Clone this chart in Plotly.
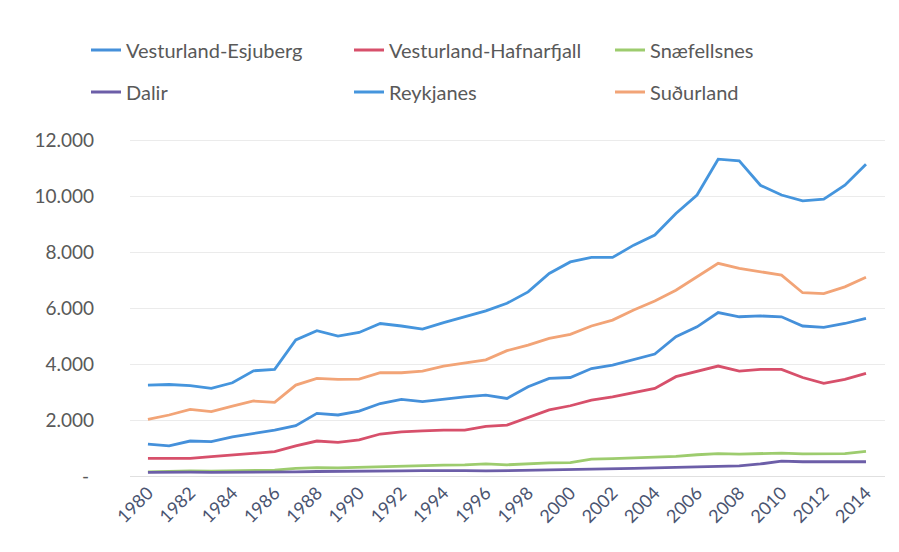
import plotly.graph_objects as go

years = list(range(1980, 2015))

vesturland_esjuberg = [1140, 1080, 1250, 1230, 1400, 1520, 1640, 1800, 2240, 2180, 2320, 2590, 2740, 2660, 2750,
                       2830, 2890, 2770, 3190, 3490, 3520, 3840, 3960, 4170, 4360, 4980, 5330, 5840, 5690, 5720,
                       5690, 5360, 5310, 5450, 5630]
vesturland_hafnarfjall = [630, 630, 630, 690, 750, 830, 870, 1080, 1250, 1200, 1290, 1500, 1580, 1610, 1640,
                          1640, 1770, 1820, 2090, 2360, 2510, 2710, 2830, 2990, 3130, 3550, 3730, 3930, 3750, 3810,
                          3810, 3520, 3310, 3450, 3670]
snaefellsnes = [150, 170, 180, 170, 190, 200, 210, 270, 300, 290, 310, 340, 370, 380, 390,
                400, 430, 400, 440, 470, 480, 600, 620, 640, 680, 700, 760, 800, 780, 800,
                820, 790, 790, 800, 880]
dalir = [130, 140, 140, 130, 130, 135, 140, 150, 160, 160, 170, 175, 180, 190, 200,
         190, 180, 190, 200, 210, 220, 240, 250, 270, 290, 310, 330, 350, 360, 430,
         530, 510, 500, 510, 510]
reykjanes = [3250, 3270, 3230, 3130, 3330, 3760, 3810, 4860, 5190, 5000, 5130, 5450, 5360, 5250, 5480,
             5690, 5900, 6170, 6580, 7240, 7650, 7810, 7810, 8250, 8610, 9380, 10040, 11320, 11260, 10390,
             10040, 9830, 9890, 10390, 11140]
sudurland = [2020, 2180, 2380, 2300, 2500, 2680, 2630, 3250, 3490, 3450, 3460, 3690, 3690, 3750, 3930,
             4050, 4150, 4480, 4680, 4920, 5060, 5360, 5570, 5930, 6250, 6640, 7120, 7600, 7420, 7300,
             7180, 6550, 6520, 6760, 7100]

y_tick_vals = [0, 2000, 4000, 6000, 8000, 10000, 12000]
y_tick_text = ["-\u00a0", "2.000", "4.000", "6.000", "8.000", "10.000", "12.000"]

series = [
    ("Vesturland-Esjuberg", vesturland_esjuberg, "#4590DA"),
    ("Vesturland-Hafnarfjall", vesturland_hafnarfjall, "#D7506B"),
    ("Snæfellsnes", snaefellsnes, "#9DCC6E"),
    ("Dalir", dalir, "#6C5EA8"),
    ("Reykjanes", reykjanes, "#4595DD"),
    ("Suðurland", sudurland, "#F2A477"),
]

# legend slot positions (px in the container): 3 columns x 2 rows
col_x = [78, 341, 602]
row_y = [42, 84]

FONT = "Lato"
fig = go.Figure()
legends = {}
for i, (name, vals, color) in enumerate(series):
    key = "legend" if i == 0 else f"legend{i + 1}"
    fig.add_trace(go.Scatter(x=years, y=vals, name=name, mode="lines",
                             line=dict(color=color, width=2.8), legend=key,
                             showlegend=True))
    legends[key] = dict(orientation="h", xref="container", yref="container",
                        x=col_x[i % 3] / 899, y=1 - row_y[i // 3] / 552,
                        xanchor="left", yanchor="middle", bgcolor="rgba(0,0,0,0)",
                        font=dict(family=FONT, size=20, color="#595959"),
                        itemwidth=30, visible=True)

fig.update_layout(
    width=899, height=552,
    showlegend=True,
    paper_bgcolor="white", plot_bgcolor="white",
    margin=dict(l=122, r=22, t=121, b=84, autoexpand=False),
    font=dict(family=FONT, color="#595959"),
    xaxis=dict(range=[1979.15, 2014.9], tickmode="linear", tick0=1980, dtick=2,
               tickangle=-45, showgrid=False, zeroline=False, showline=False,
               tickfont=dict(family=FONT, size=18, color="#4A5470"),
               ticks="", ticklabelstandoff=2, automargin=False),
    yaxis=dict(range=[0, 12400], tickvals=y_tick_vals, ticktext=y_tick_text,
               showgrid=True, gridcolor="#EBEBEB", gridwidth=1,
               zeroline=True, zerolinecolor="#E0E0E0", zerolinewidth=1,
               showline=False, ticks="", automargin=False,
               tickfont=dict(family=FONT, size=19, color="#595959"),
               ticklabelstandoff=35),
    **legends,
)

fig.write_html("out.html")
